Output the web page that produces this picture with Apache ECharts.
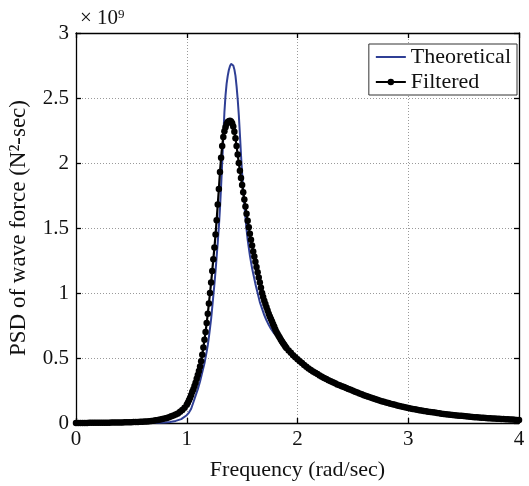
<!DOCTYPE html>
<html><head><meta charset="utf-8">
<script src="https://cdn.jsdelivr.net/npm/echarts@6/dist/echarts.min.js"></script>
<style>html,body{margin:0;padding:0;background:#fff}#c{width:529px;height:486px}</style>
</head><body><div id="c"></div>
<script>
// Values in units of 1e9 (N^2-sec)
const xTicks = [0, 1, 2, 3, 4];
const yTicks = [0, 0.5, 1, 1.5, 2, 2.5, 3];
const seriesNames = ['Theoretical', 'Filtered'];

const theoretical = [
[0,0],[0.5,0],[0.6,0.0005],[0.7,0.001],[0.75,0.002],[0.8,0.004],[0.85,0.008],[0.9,0.016],[0.95,0.03],
[1.00,0.06],[1.02,0.08],[1.04,0.11],[1.06,0.16],[1.08,0.21],[1.10,0.26],[1.12,0.32],[1.14,0.39],[1.16,0.46],
[1.18,0.55],[1.19,0.6],[1.20,0.66],[1.21,0.73],[1.22,0.80],[1.23,0.89],[1.24,0.98],[1.25,1.07],[1.26,1.17],
[1.27,1.28],[1.28,1.39],[1.29,1.51],[1.30,1.65],[1.31,1.82],[1.32,2.0],[1.33,2.2],[1.34,2.39],[1.35,2.52],
[1.36,2.61],[1.37,2.67],[1.38,2.715],[1.39,2.745],[1.40,2.762],[1.41,2.765],[1.42,2.75],[1.43,2.72],[1.44,2.67],
[1.45,2.59],[1.46,2.49],[1.47,2.37],[1.48,2.22],[1.49,2.06],[1.50,1.92],[1.51,1.79],[1.52,1.68],[1.53,1.58],
[1.54,1.49],[1.55,1.41],[1.56,1.35],[1.57,1.29],[1.58,1.24],[1.59,1.19],[1.60,1.15],[1.62,1.07],[1.64,1.00],
[1.66,0.93],[1.68,0.88],[1.70,0.83],[1.72,0.79],[1.74,0.755],[1.76,0.725],[1.78,0.70],[1.80,0.68],[1.82,0.665],
[1.84,0.652],[1.86,0.627],[1.90,0.577],[1.95,0.53],[2.0,0.49],[2.1,0.42],[2.2,0.37],[2.3,0.323],[2.4,0.286],
[2.5,0.25],[2.6,0.215],[2.7,0.185],[2.8,0.16],[2.9,0.135],[3.0,0.112],[3.2,0.084],[3.4,0.062],[3.6,0.045],
[3.8,0.032],[4.0,0.022]
];

const filtered = [
[0,0],[0.02,0],[0.04,0],[0.06,0],[0.08,0],[0.10,0],[0.12,0.001],[0.14,0.001],[0.16,0.001],[0.18,0.001],
[0.20,0.001],[0.22,0.002],[0.24,0.002],[0.26,0.002],[0.28,0.002],[0.30,0.002],[0.32,0.003],[0.34,0.003],[0.36,0.003],[0.38,0.004],
[0.40,0.004],[0.42,0.004],[0.44,0.005],[0.46,0.005],[0.48,0.006],[0.50,0.006],[0.52,0.007],[0.54,0.008],[0.56,0.008],[0.58,0.009],
[0.60,0.01],[0.62,0.011],[0.64,0.012],[0.66,0.014],[0.68,0.016],[0.70,0.018],[0.72,0.021],[0.74,0.024],[0.76,0.027],[0.78,0.03],
[0.80,0.034],[0.82,0.039],[0.84,0.045],[0.86,0.051],[0.88,0.058],[0.90,0.066],[0.92,0.074],[0.94,0.086],[0.96,0.1],[0.98,0.118],
[1.00,0.14],[1.01,0.155],[1.02,0.175],[1.03,0.195],[1.04,0.215],[1.05,0.24],[1.06,0.26],[1.07,0.285],[1.08,0.31],[1.09,0.34],
[1.10,0.37],[1.11,0.40],[1.12,0.435],[1.13,0.475],[1.14,0.525],[1.15,0.58],[1.16,0.64],[1.17,0.70],[1.18,0.77],[1.19,0.84],
[1.20,0.92],[1.21,1.00],[1.22,1.08],[1.23,1.17],[1.24,1.26],[1.25,1.35],[1.26,1.45],[1.27,1.56],[1.28,1.68],[1.29,1.80],
[1.30,1.93],[1.31,2.04],[1.32,2.13],[1.33,2.20],[1.34,2.245],[1.35,2.275],[1.36,2.30],[1.37,2.315],[1.38,2.322],[1.39,2.325],
[1.40,2.32],[1.41,2.305],[1.42,2.28],[1.43,2.24],[1.44,2.19],[1.45,2.13],[1.46,2.065],[1.47,2.00],[1.48,1.94],[1.49,1.885],
[1.50,1.83],[1.51,1.775],[1.52,1.72],[1.53,1.665],[1.54,1.61],[1.55,1.555],[1.56,1.505],[1.57,1.455],[1.58,1.41],[1.59,1.365],
[1.60,1.32],[1.61,1.28],[1.62,1.24],[1.63,1.20],[1.64,1.16],[1.65,1.12],[1.66,1.08],[1.67,1.04],[1.68,1.00],[1.69,0.97],
[1.70,0.94],[1.71,0.915],[1.72,0.89],[1.73,0.865],[1.74,0.84],[1.75,0.82],[1.76,0.80],[1.77,0.78],[1.78,0.76],[1.79,0.74],
[1.80,0.72],[1.81,0.70],[1.82,0.685],[1.83,0.67],[1.84,0.655],[1.85,0.64],[1.86,0.627],[1.87,0.614],[1.88,0.601],[1.89,0.589],
[1.90,0.577],[1.92,0.558],[1.94,0.54],[1.96,0.522],[1.98,0.505],[2.00,0.49],[2.02,0.475],[2.04,0.461],[2.06,0.447],[2.08,0.433],
[2.10,0.42],[2.12,0.408],[2.14,0.397],[2.16,0.386],[2.18,0.376],[2.20,0.366],[2.22,0.356],[2.24,0.347],[2.26,0.338],[2.28,0.329],
[2.30,0.321],[2.32,0.313],[2.34,0.305],[2.36,0.297],[2.38,0.29],[2.40,0.283],[2.42,0.276],[2.44,0.269],[2.46,0.262],[2.48,0.255],
[2.50,0.248],[2.52,0.241],[2.54,0.234],[2.56,0.227],[2.58,0.221],[2.60,0.214],[2.62,0.208],[2.64,0.202],[2.66,0.196],[2.68,0.19],
[2.70,0.184],[2.72,0.178],[2.74,0.173],[2.76,0.168],[2.78,0.163],[2.80,0.158],[2.82,0.153],[2.84,0.148],[2.86,0.144],[2.88,0.14],
[2.90,0.135],[2.92,0.131],[2.94,0.127],[2.96,0.123],[2.98,0.119],[3.00,0.115],[3.02,0.112],[3.04,0.108],[3.06,0.105],[3.08,0.102],
[3.10,0.099],[3.12,0.096],[3.14,0.093],[3.16,0.09],[3.18,0.087],[3.20,0.085],[3.22,0.082],[3.24,0.08],[3.26,0.077],[3.28,0.075],
[3.30,0.072],[3.32,0.07],[3.34,0.068],[3.36,0.066],[3.38,0.064],[3.40,0.062],[3.42,0.06],[3.44,0.058],[3.46,0.056],[3.48,0.055],
[3.50,0.053],[3.52,0.051],[3.54,0.05],[3.56,0.048],[3.58,0.047],[3.60,0.045],[3.62,0.044],[3.64,0.042],[3.66,0.041],[3.68,0.04],
[3.70,0.039],[3.72,0.037],[3.74,0.036],[3.76,0.035],[3.78,0.034],[3.80,0.033],[3.82,0.032],[3.84,0.031],[3.86,0.03],[3.88,0.029],
[3.90,0.028],[3.92,0.027],[3.94,0.026],[3.96,0.025],[3.98,0.024],[4.00,0.023]
];

const FONT = '"Liberation Serif", "Times New Roman", serif';
const chart = echarts.init(document.getElementById('c'));
const xMin = xTicks[0], xMax = xTicks[xTicks.length - 1];
const yMin = yTicks[0], yMax = yTicks[yTicks.length - 1];
const xInt = xTicks[1] - xTicks[0], yInt = yTicks[1] - yTicks[0];

const frameAxis = (pos) => ({
  position: pos, type: 'value', min: pos === 'top' ? xMin : yMin, max: pos === 'top' ? xMax : yMax,
  interval: pos === 'top' ? xInt : yInt,
  axisLine: { show: true, onZero: false, lineStyle: { color: '#000', width: 1.3 } },
  axisTick: { show: true, inside: true, length: 5, lineStyle: { color: '#000', width: 1.3 } },
  axisLabel: { show: false }, splitLine: { show: false }
});

chart.setOption({
  animation: false,
  backgroundColor: '#fff',
  grid: { left: 76, right: 10, top: 33, bottom: 63, containLabel: false, outerBoundsMode: 'none' },
  legend: {
    data: [
      { name: seriesNames[0], itemStyle: { opacity: 0 } },
      { name: seriesNames[1] }
    ],
    orient: 'vertical', right: 12, top: 44,
    itemWidth: 30, itemHeight: 8, itemGap: 1,
    padding: [1, 6, 1, 6],
    borderColor: '#333', borderWidth: 1, backgroundColor: '#fff', borderRadius: 0,
    textStyle: { fontFamily: FONT, fontSize: 22, color: '#111', lineHeight: 24 }
  },
  graphic: [
    { type: 'text', left: 80, top: 8, style: { text: '× 10', font: '21px ' + FONT, fill: '#111' } },
    { type: 'text', left: 118, top: 8, style: { text: '9', font: '13px ' + FONT, fill: '#111' } }
  ],
  xAxis: [{
    type: 'value', min: xMin, max: xMax, interval: xInt, position: 'bottom',
    name: 'Frequency (rad/sec)', nameLocation: 'middle', nameGap: 36,
    nameTextStyle: { fontFamily: FONT, fontSize: 22, color: '#111' },
    axisLine: { show: true, onZero: false, lineStyle: { color: '#000', width: 1.3 } },
    axisTick: { show: true, inside: true, length: 5, lineStyle: { color: '#000', width: 1.3 } },
    axisLabel: { fontFamily: FONT, fontSize: 21, color: '#111', margin: 6 },
    splitLine: { show: true, lineStyle: { type: [1, 2], color: '#9a9a9a', width: 1 } }
  }, frameAxis('top')],
  yAxis: [{
    type: 'value', min: yMin, max: yMax, interval: yInt, position: 'left',
    name: 'PSD of wave force (N²-sec)', nameLocation: 'middle', nameGap: 46,
    nameTextStyle: { fontFamily: FONT, fontSize: 23, color: '#111' },
    axisLine: { show: true, onZero: false, lineStyle: { color: '#000', width: 1.3 } },
    axisTick: { show: true, inside: true, length: 5, lineStyle: { color: '#000', width: 1.3 } },
    axisLabel: { fontFamily: FONT, fontSize: 21, color: '#111', margin: 7, formatter: v => String(v) },
    splitLine: { show: true, lineStyle: { type: [1, 2], color: '#9a9a9a', width: 1 } }
  }, frameAxis('right')],
  series: [
    { name: seriesNames[0], type: 'line', data: theoretical, symbol: 'none',
      lineStyle: { color: '#2f3f95', width: 2 }, itemStyle: { color: '#2f3f95' }, z: 2 },
    { name: seriesNames[1], type: 'line', data: filtered, symbol: 'circle', symbolSize: 6.5, showAllSymbol: true,
      lineStyle: { color: '#000', width: 2.2 }, itemStyle: { color: '#000', borderWidth: 0 }, z: 3 }
  ]
});
</script>
</body></html>
